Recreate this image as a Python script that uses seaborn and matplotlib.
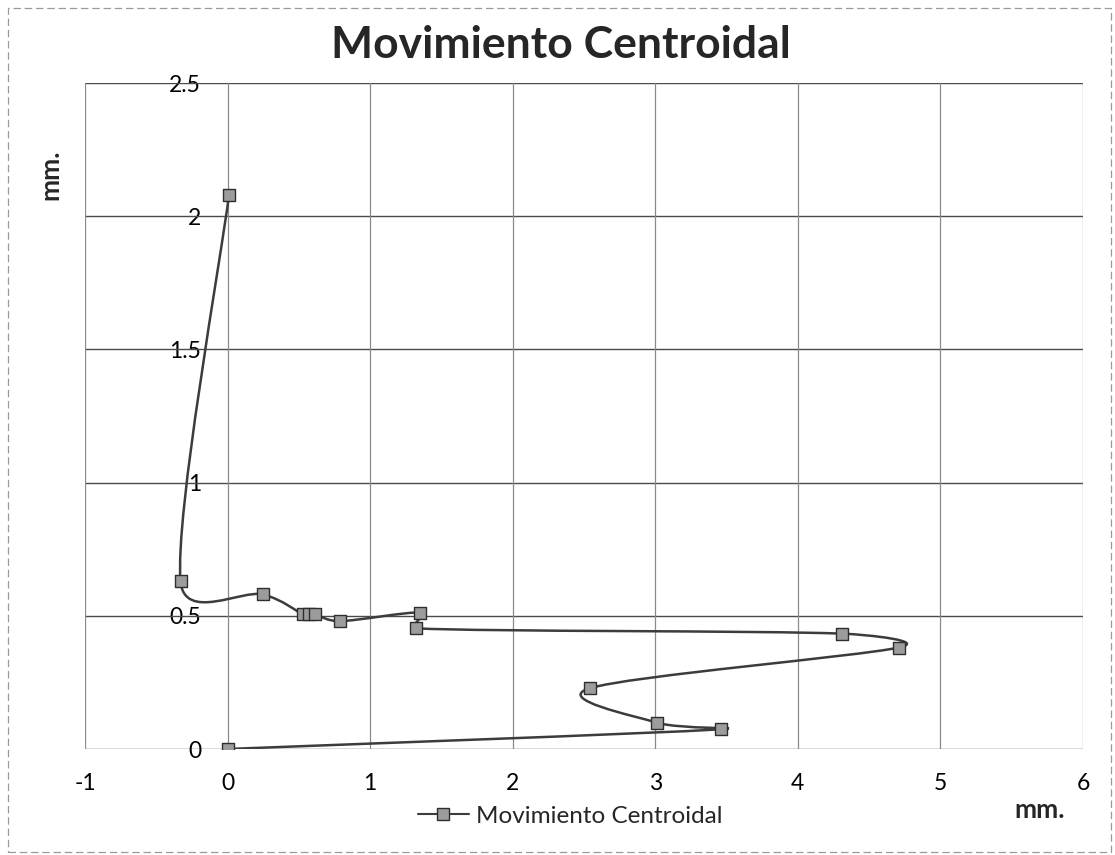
import numpy as np
import matplotlib
matplotlib.use("Agg")
import matplotlib.pyplot as plt
import matplotlib.ticker as mticker
from matplotlib.path import Path
from matplotlib.patches import PathPatch, Rectangle
from matplotlib.lines import Line2D
import seaborn as sns
import pandas as pd

# ---- data -------------------------------------------------------------
title = "Movimiento Centroidal"
series_name = "Movimiento Centroidal"
axis_unit = "mm."

x_mm = [0.01, -0.33, 0.25, 0.53, 0.57, 0.61, 0.79, 1.35, 1.32,
        4.31, 4.71, 2.54, 3.01, 3.46, 0.0]
y_mm = [2.08, 0.63, 0.58, 0.505, 0.505, 0.505, 0.48, 0.512, 0.453,
        0.433, 0.381, 0.228, 0.099, 0.074, 0.0]

x_ticks = [-1, 0, 1, 2, 3, 4, 5, 6]
y_ticks = [0, 0.5, 1, 1.5, 2, 2.5]

# ---- style ------------------------------------------------------------
sns.set_style("white")
plt.rcParams["font.family"] = ["Lato", "DejaVu Sans"]

LINE_C = "#3c3c3c"
MARK_FC = "#9c9c9c"
MARK_EC = "#2e2e2e"
GRID_H = "#4a4a4a"
GRID_V = "#8a8a8a"

W, H = 1115, 855
fig = plt.figure(figsize=(W / 100, H / 100), dpi=100)
ax = fig.add_axes([85 / W, 1 - 749 / H, (1083 - 85) / W, (749 - 83) / H])

ax.set_xlim(x_ticks[0], x_ticks[-1])
ax.set_ylim(y_ticks[0], y_ticks[-1])
ax.set_xticks(x_ticks)
ax.set_yticks(y_ticks)
fmt = mticker.FuncFormatter(lambda v, _: f"{v:g}")
ax.xaxis.set_major_formatter(fmt)
ax.yaxis.set_major_formatter(fmt)

# gridlines
for yv in y_ticks:
    ax.axhline(yv, color=GRID_H, lw=1.0, zorder=1)
for xv in x_ticks:
    ax.axvline(xv, color=GRID_V, lw=0.9, zorder=1)

# the value axis crosses the category axis at x = 0
for s in ax.spines.values():
    s.set_visible(False)
ax.spines["left"].set_position(("data", 0))
ax.tick_params(axis="both", length=0, labelsize=16.5, colors="black")
ax.tick_params(axis="y", pad=19)
ax.tick_params(axis="x", pad=17)


# smoothed connecting line: cubic Bezier segments built in screen space,
# tangent legs limited to half of the segment they belong to
def smooth_path(xs, ys):
    to_px = ax.transData
    pts = to_px.transform(np.column_stack([xs, ys]).astype(float))
    n = len(pts)

    def leg(i, seg_len):
        prev_p = pts[i - 1] if i > 0 else pts[i]
        next_p = pts[i + 1] if i < n - 1 else pts[i]
        d = next_p - prev_p
        norm = np.hypot(*d)
        if norm == 0:
            return np.zeros(2)
        length = min(norm / 6.0, 0.5 * seg_len)
        return d / norm * length

    verts = [pts[0]]
    codes = [Path.MOVETO]
    for i in range(n - 1):
        p1, p2 = pts[i], pts[i + 1]
        seg = np.hypot(*(p2 - p1))
        c1 = p1 + leg(i, seg)
        c2 = p2 - leg(i + 1, seg)
        verts += [c1, c2, p2]
        codes += [Path.CURVE4] * 3
    data_verts = to_px.inverted().transform(np.array(verts))
    return Path(data_verts, codes)


ax.add_patch(PathPatch(smooth_path(x_mm, y_mm), facecolor="none",
                       edgecolor=LINE_C, lw=1.8, zorder=3,
                       transform=ax.transData))

df = pd.DataFrame({"x": x_mm, "y": y_mm})
sns.scatterplot(data=df, x="x", y="y", marker="s", s=70,
                color=MARK_FC, edgecolor=MARK_EC, linewidth=1.0,
                zorder=4, ax=ax, legend=False)
ax.set_xlabel("")
ax.set_ylabel("")

# title and axis units
fig.text(561 / W, 1 - 45 / H, title, ha="center", va="center",
         fontsize=32, fontweight="bold")
fig.text(50 / W, 1 - 175 / H, axis_unit, rotation=90, ha="center",
         va="center", fontsize=19, fontweight="bold")
fig.text(1040 / W, 1 - 810 / H, axis_unit, ha="center", va="center",
         fontsize=19, fontweight="bold")

# legend
handle = Line2D([], [], color=LINE_C, lw=1.5, marker="s", ms=8,
                mfc=MARK_FC, mec=MARK_EC)
fig.legend([handle], [series_name], loc="center",
           bbox_to_anchor=(570 / W, 1 - 816 / H), frameon=False,
           fontsize=17.5, handlelength=2.1, handletextpad=0.3)

# chart-area border
fig.patches.append(Rectangle((8 / W, 3 / H), 1 - 12 / W, 1 - 11 / H,
                             transform=fig.transFigure, fill=False,
                             edgecolor="#9a9a9a", lw=0.9, ls=(0, (6, 3))))

fig.savefig("out.png", dpi=100, facecolor="white")
